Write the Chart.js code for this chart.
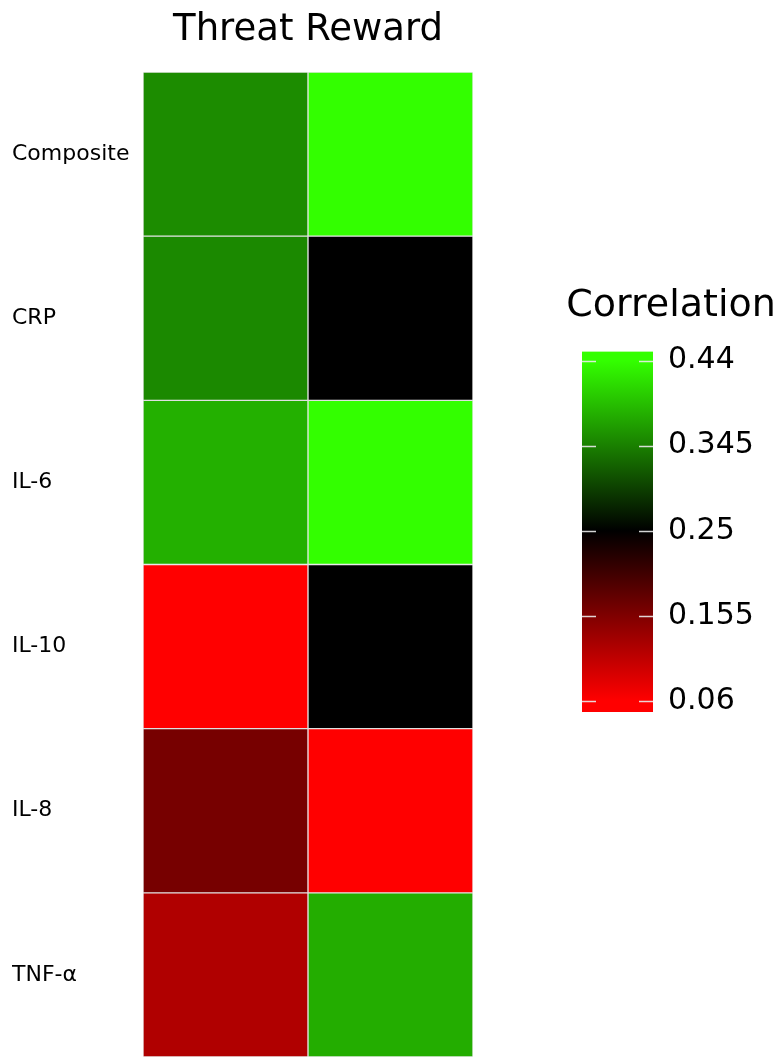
<!DOCTYPE html>
<html>
<head>
<meta charset="utf-8">
<script src="https://cdn.jsdelivr.net/npm/chart.js@4.4.1/dist/chart.umd.min.js"></script>
<style>
  html, body { margin: 0; padding: 0; background: #fff; }
  #wrap { position: relative; width: 782px; height: 1057px; }
  #wrap canvas { position: absolute; left: 0; top: 0; }
</style>
</head>
<body>
<div id="wrap">
  <canvas id="heat" width="782" height="1057"></canvas>
  <canvas id="bar" width="782" height="1057"></canvas>
</div>
<script>
// data
var columns = ['Threat', 'Reward'];
var markers = ['Composite', 'CRP', 'IL-6', 'IL-10', 'IL-8', 'TNF-\u03b1'];
var threat = [0.354, 0.352, 0.381, 0.06, 0.161, 0.119];
var reward = [0.44, 0.25, 0.44, 0.25, 0.06, 0.379];
var scaleTicks = [0.06, 0.155, 0.25, 0.345, 0.44];

var lo = 0.06, mid = 0.25, hi = 0.44;

// red -> black -> green
function corrColor(v) {
    if (v <= mid) {
        var r = Math.round(Math.min(1, (mid - v) / (mid - lo)) * 255);
        return 'rgb(' + r + ',0,0)';
    }
    var g = Math.min(1, (v - mid) / (hi - mid)) * 255;
    return 'rgb(' + Math.round(g * 0.2) + ',' + Math.round(g) + ',0)';
}

Chart.defaults.font.family = "'DejaVu Sans', sans-serif";
Chart.defaults.color = '#000';

// heatmap: each row is a stacked bar segment of height 1
var heatSets = markers.map(function (m, i) {
    return {
        label: m,
        data: [1, 1],
        backgroundColor: [corrColor(threat[i]), corrColor(reward[i])],
        borderColor: 'rgba(150,150,150,0.2)',
        borderWidth: 1,
        borderSkipped: false,
        barPercentage: 1,
        categoryPercentage: 1
    };
});

new Chart(document.getElementById('heat').getContext('2d'), {
    type: 'bar',
    data: { labels: columns, datasets: heatSets },
    options: {
        responsive: false,
        animation: false,
        layout: { padding: { left: 12, right: 309, top: 0, bottom: 0 } },
        plugins: {
            legend: { display: false },
            tooltip: { enabled: false },
            title: {
                display: true,
                fullSize: false,
                text: columns.join(' '),
                font: { size: 37, weight: 'normal' },
                color: '#000',
                padding: { top: 8, bottom: 19.6 }
            }
        },
        scales: {
            x: { display: false, stacked: true },
            y: {
                stacked: true,
                min: 0,
                max: markers.length,
                reverse: true,
                grid: { display: false, drawTicks: false },
                border: { display: false },
                afterBuildTicks: function (s) {
                    s.ticks = markers.map(function (m, i) { return { value: i + 0.5 }; });
                },
                ticks: {
                    crossAlign: 'far',
                    font: { size: 22 },
                    callback: function (v, i) { return markers[i]; }
                },
                afterFit: function (s) {
                    s.width = 131;
                    s.paddingTop = 0;
                    s.paddingBottom = 0;
                }
            }
        }
    }
});

// colour bar legend
var tickMarks = {
    id: 'tickMarks',
    afterDatasetsDraw: function (chart) {
        var ctx = chart.ctx, area = chart.chartArea, y = chart.scales.y;
        ctx.save();
        ctx.strokeStyle = 'rgba(235,235,235,0.9)';
        ctx.lineWidth = 1.5;
        scaleTicks.forEach(function (t) {
            var py = Math.round(y.getPixelForValue(t)) + 0.5;
            ctx.beginPath();
            ctx.moveTo(area.left, py); ctx.lineTo(area.left + 14, py);
            ctx.moveTo(area.right - 14, py); ctx.lineTo(area.right, py);
            ctx.stroke();
        });
        ctx.restore();
    }
};

new Chart(document.getElementById('bar').getContext('2d'), {
    type: 'bar',
    data: {
        labels: ['Correlation'],
        datasets: [{
            yAxisID: 'y',
            data: [[0.0477, 0.45]],
            barPercentage: 1,
            categoryPercentage: 1,
            backgroundColor: function (c) {
                var area = c.chart.chartArea, y = c.chart.scales.y;
                if (!area) return '#000';
                var g = c.chart.ctx.createLinearGradient(0, y.getPixelForValue(lo), 0, y.getPixelForValue(hi));
                g.addColorStop(0, corrColor(lo));
                g.addColorStop(0.5, corrColor(mid));
                g.addColorStop(1, corrColor(hi));
                return g;
            }
        }]
    },
    options: {
        responsive: false,
        animation: false,
        layout: { padding: { left: 560, right: 0, top: 280, bottom: 345 } },
        plugins: {
            legend: { display: false },
            tooltip: { enabled: false },
            title: {
                display: true,
                text: 'Correlation',
                font: { size: 38, weight: 'normal' },
                color: '#000',
                padding: { top: 3, bottom: 23 }
            }
        },
        scales: {
            x: { display: false },
            // empty spacer so the title box is wide enough
            gap: {
                type: 'linear',
                position: 'left',
                grid: { display: false, drawTicks: false },
                border: { display: false },
                ticks: { display: false },
                afterFit: function (s) { s.width = 22; }
            },
            y: {
                position: 'right',
                min: 0.0477,
                max: 0.45,
                grid: { display: false, drawTicks: false },
                border: { display: false },
                afterBuildTicks: function (s) {
                    s.ticks = scaleTicks.map(function (t) { return { value: t }; });
                },
                ticks: {
                    font: { size: 30 },
                    padding: 15,
                    callback: function (v) { return String(v); }
                },
                afterFit: function (s) {
                    s.width = 129;
                    s.paddingTop = 0;
                    s.paddingBottom = 0;
                }
            }
        }
    },
    plugins: [tickMarks]
});
</script>
</body>
</html>
